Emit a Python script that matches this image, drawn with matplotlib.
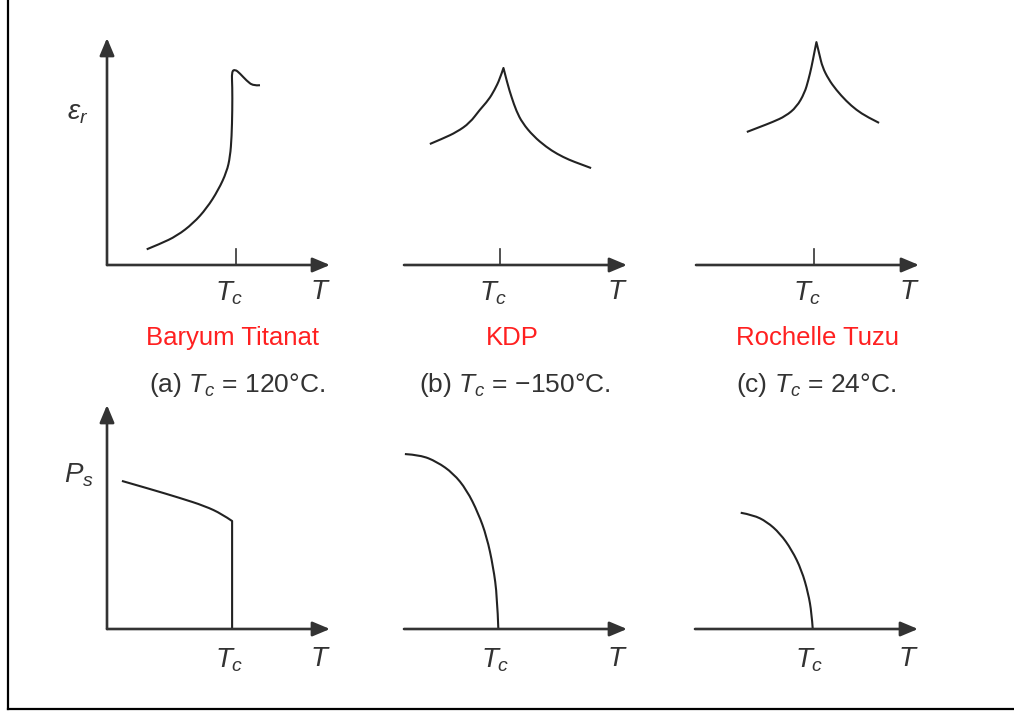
import matplotlib
matplotlib.use("Agg")
import matplotlib.pyplot as plt
from matplotlib.lines import Line2D
from matplotlib.path import Path
from matplotlib.patches import PathPatch

plt.rcParams['font.family'] = ['Liberation Sans', 'DejaVu Sans']
plt.rcParams['mathtext.fontset'] = 'custom'
plt.rcParams['mathtext.rm'] = 'Liberation Sans'
plt.rcParams['mathtext.it'] = 'Liberation Sans:italic'
plt.rcParams['mathtext.bf'] = 'Liberation Sans:bold'

# ---- data (arbitrary units, each axis spans 0..10) ----
materials = ["Baryum Titanat", "KDP", "Rochelle Tuzu"]
captions = ["(a) $T_c$ = 120°C.", "(b) $T_c$ = −150°C.", "(c) $T_c$ = 24°C."]
tc_values = [5.78, 4.29, 5.27]            # Curie temperature position (top row)
tc_values_ps = [5.61, 4.23, 5.28]         # Curie temperature position (bottom row)

# relative permittivity eps_r(T)
eps_bt_T = [1.78, 2.38, 3.13, 3.87, 4.47, 4.99, 5.37, 5.52, 5.59, 5.62, 5.62, 5.59, 5.74, 5.96, 6.26, 6.56, 6.86]
eps_bt_v = [0.69, 0.93, 1.28, 1.84, 2.50, 3.30, 4.11, 4.77, 5.65, 6.83, 7.85, 8.52, 8.62, 8.44, 8.12, 7.89, 7.92]

eps_kdp_T = [1.16, 1.74, 2.37, 2.95, 3.39, 3.79, 4.06, 4.30, 4.46, 4.64, 4.82, 5.04, 5.31, 5.80, 6.38, 6.87, 7.41, 7.90, 8.39]
eps_kdp_v = [5.33, 5.57, 5.86, 6.26, 6.83, 7.27, 7.71, 8.20, 8.68, 7.98, 7.40, 6.78, 6.26, 5.68, 5.20, 4.89, 4.63, 4.45, 4.27]

eps_rs_T = [2.28, 2.86, 3.44, 4.02, 4.51, 4.87, 5.04, 5.18, 5.31, 5.40, 5.54, 5.67, 5.94, 6.29, 6.74, 7.19, 7.68, 8.21]
eps_rs_v = [5.86, 6.08, 6.30, 6.56, 6.96, 7.58, 8.15, 8.72, 9.38, 9.82, 9.25, 8.72, 8.19, 7.71, 7.22, 6.83, 6.52, 6.26]

# spontaneous polarization P_s(T)
ps_bt_T = [0.67, 1.93, 3.27, 4.39, 5.16, 5.61, 5.61]
ps_bt_v = [6.61, 6.25, 5.85, 5.49, 5.13, 4.82, 0.00]

ps_kdp_T = [0.04, 0.72, 1.47, 2.21, 2.81, 3.33, 3.71, 4.00, 4.18, 4.23]
ps_kdp_v = [7.81, 7.77, 7.47, 6.95, 6.21, 5.17, 4.12, 2.78, 1.44, 0.00]

ps_rs_T = [2.05, 2.61, 3.22, 3.81, 4.34, 4.78, 5.08, 5.23, 5.28]
ps_rs_v = [5.19, 5.09, 4.79, 4.27, 3.53, 2.63, 1.59, 0.70, 0.00]

# indices where the curve has a sharp corner (peak / jump)
eps_curves = [(eps_bt_T, eps_bt_v, []), (eps_kdp_T, eps_kdp_v, [8]), (eps_rs_T, eps_rs_v, [9])]
ps_curves = [(ps_bt_T, ps_bt_v, [5]), (ps_kdp_T, ps_kdp_v, []), (ps_rs_T, ps_rs_v, [])]

# ---- layout ----
W, H = 1014, 713
fig = plt.figure(figsize=(W / 100, H / 100), dpi=100)
fig.patch.set_facecolor("white")

AX_COLOR = "#333333"
LINE_COLOR = "#222222"
TEXT_COLOR = "#333333"
RED = "#ff2020"

top_x0 = [107, 404, 696]
bot_x0 = [107, 404, 695]
top_origin_y, top_h = 265, 227
bot_origin_y, bot_h = 629, 224
col_w = 223


def make_axes(x0, origin_y, h):
    ax = fig.add_axes([x0 / W, (H - origin_y) / H, col_w / W, h / H])
    ax.set_xlim(0, 10)
    ax.set_ylim(0, 10)
    ax.axis("off")
    return ax


def arrow(ax, start, end):
    ax.annotate("", xy=end, xytext=start,
                arrowprops=dict(arrowstyle="-|>,head_length=0.62,head_width=0.26",
                                mutation_scale=17, lw=1.9, color=AX_COLOR,
                                shrinkA=0, shrinkB=0),
                annotation_clip=False)


def smooth_curve(ax, T, v, corners):
    """Draw the sampled curve as a quadratic B-spline, kept sharp at the corners."""
    pts = list(zip(T, v))
    cuts = [0] + list(corners) + [len(pts) - 1]
    verts, codes = [], []
    for a, b in zip(cuts[:-1], cuts[1:]):
        seg = pts[a:b + 1]
        if not verts:
            verts.append(seg[0])
            codes.append(Path.MOVETO)
        if len(seg) == 2:
            verts.append(seg[1])
            codes.append(Path.LINETO)
            continue
        for k in range(1, len(seg) - 1):
            ctrl = seg[k]
            if k == len(seg) - 2:
                end = seg[k + 1]
            else:
                end = ((seg[k][0] + seg[k + 1][0]) / 2, (seg[k][1] + seg[k + 1][1]) / 2)
            verts += [ctrl, end]
            codes += [Path.CURVE3, Path.CURVE3]
    patch = PathPatch(Path(verts, codes), fill=False, edgecolor=LINE_COLOR,
                      lw=1.5, clip_on=False, joinstyle="round", capstyle="butt")
    ax.add_patch(patch)


label_kw = dict(fontsize=20, color=TEXT_COLOR, ha="center", va="center")

for i in range(3):
    # top row: relative permittivity
    ax = make_axes(top_x0[i], top_origin_y, top_h)
    arrow(ax, (0, 0), (10, 0))
    if i == 0:
        arrow(ax, (0, 0), (0, 10))
        ax.text(-1.3, 6.7, "$ε_r$", **label_kw)
    tc = tc_values[i]
    ax.plot([tc, tc], [0, 0.7], color=AX_COLOR, lw=1.2, clip_on=False)
    T, v, corners = eps_curves[i]
    smooth_curve(ax, T, v, corners)
    ax.text(tc - 0.3, -1.25, "$T_c$", **label_kw)
    ax.text(9.55, -1.2, "$T$", **label_kw)
    red_x = [5.65, 4.87, 5.45][i]
    ax.text(red_x, -3.22, materials[i], fontsize=18.5, color=RED,
            ha="center", va="center")
    cap_x = [5.83, 4.96, 5.4][i]
    ax.text(cap_x, -5.3, captions[i], fontsize=19, color=TEXT_COLOR,
            ha="center", va="center")

    # bottom row: spontaneous polarization
    ax = make_axes(bot_x0[i], bot_origin_y, bot_h)
    arrow(ax, (0, 0), (10, 0))
    if i == 0:
        arrow(ax, (0, 0), (0, 10))
        ax.text(-1.25, 6.85, "$P_s$", **label_kw)
    tcp = tc_values_ps[i]
    T, v, corners = ps_curves[i]
    smooth_curve(ax, T, v, corners)
    ax.text(tcp - 0.15, -1.4, "$T_c$", **label_kw)
    ax.text(9.55, -1.35, "$T$", **label_kw)

# frame lines on the left and bottom
fig.add_artist(Line2D([8 / W, 8 / W], [1.0, (H - 709) / H], color="black", lw=1.6,
                      transform=fig.transFigure))
fig.add_artist(Line2D([8 / W, 1.0], [(H - 709) / H, (H - 709) / H], color="black", lw=1.6,
                      transform=fig.transFigure))

fig.savefig("out.png", dpi=100, facecolor="white")
